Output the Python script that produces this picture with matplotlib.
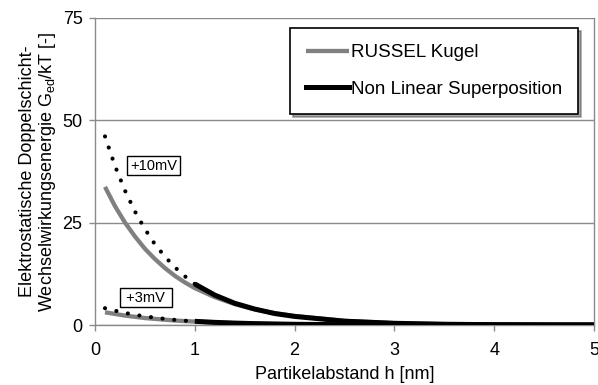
import matplotlib.pyplot as plt

plt.rcParams['font.family'] = ['Liberation Sans', 'DejaVu Sans']
plt.rcParams['mathtext.fontset'] = 'custom'
plt.rcParams['mathtext.rm'] = 'Liberation Sans'

# Abstand h [nm]
h_near = [0.1, 0.2, 0.3, 0.4, 0.5, 0.6, 0.7, 0.8, 0.9, 1.0]
h_far = [1.0, 1.2, 1.4, 1.6, 1.8, 2.0, 2.5, 3.0, 3.5, 4.0, 4.5, 5.0]

# +10mV
russel_10_near = [33.7, 29.0, 25.0, 21.6, 18.6, 16.1, 13.9, 12.0, 10.4, 9.0]
russel_10_far = [9.0, 6.8, 5.1, 3.8, 2.9, 2.2, 1.0, 0.45, 0.2, 0.09, 0.04, 0.02]
nls_10_near = [46.0, 38.8, 32.8, 27.7, 23.4, 19.7, 16.7, 14.1, 11.9, 10.0]
nls_10_far = [10.0, 7.3, 5.3, 3.9, 2.8, 2.1, 0.94, 0.42, 0.19, 0.08, 0.04, 0.02]

# +3mV
russel_3_near = [3.1, 2.7, 2.3, 2.0, 1.7, 1.5, 1.3, 1.1, 0.95, 0.85]
russel_3_far = [0.85, 0.62, 0.45, 0.33, 0.24, 0.18, 0.08, 0.04, 0.02, 0.01, 0.0, 0.0]
nls_3_near = [4.1, 3.5, 2.95, 2.5, 2.1, 1.8, 1.5, 1.25, 1.05, 0.9]
nls_3_far = [0.9, 0.65, 0.47, 0.34, 0.25, 0.18, 0.08, 0.04, 0.02, 0.01, 0.0, 0.0]

grey = '#808080'

fig = plt.figure(figsize=(5.98, 3.85), dpi=100)
ax = fig.add_axes([0.1589, 0.1558, 0.8344, 0.7987])

# RUSSEL Kugel (grau)
ax.plot(h_near + h_far[1:], russel_10_near + russel_10_far[1:], color=grey, lw=3.1,
        solid_capstyle='butt', label='RUSSEL Kugel', zorder=3)
ax.plot(h_near + h_far[1:], russel_3_near + russel_3_far[1:], color=grey, lw=3.1,
        solid_capstyle='butt', zorder=3)

# Non Linear Superposition: gepunktet bis 1 nm, dann durchgezogen
for near, far in [(nls_10_near, nls_10_far), (nls_3_near, nls_3_far)]:
    ax.plot(h_near, near, color='black', lw=3.0, linestyle=(0, (0.01, 2.8)),
            dash_capstyle='round', zorder=4)
    ax.plot(h_far, far, color='black', lw=3.6, solid_capstyle='butt', zorder=4)
ax.plot([], [], color='black', lw=3.6, label='Non Linear Superposition')

ax.set_xlim(0, 5)
ax.set_ylim(0, 75)
ax.set_xticks([0, 1, 2, 3, 4, 5])
ax.set_yticks([0, 25, 50, 75])
ax.yaxis.grid(True, color='#8a8a8a', lw=1)
ax.set_axisbelow(True)
for s in ax.spines.values():
    s.set_color('#8a8a8a')
    s.set_linewidth(1)
ax.spines['top'].set_visible(False)
ax.tick_params(axis='both', colors='#8a8a8a', labelcolor='black', labelsize=13,
               length=4, width=1)
ax.tick_params(axis='y', pad=5)
ax.tick_params(axis='x', pad=8)

ax.set_xlabel('Partikelabstand h [nm]', fontsize=13, labelpad=5)
ax.set_ylabel('Elektrostatische Doppelschicht-\nWechselwirkungsenergie G$_\\mathrm{ed}$/kT [-]',
              fontsize=13, labelpad=3, linespacing=1.05)

box = dict(boxstyle='square,pad=0.2', fc='white', ec='black', lw=1)
ax.text(0.59, 38.9, '+10mV', fontsize=10.5, ha='center', va='center', bbox=box, zorder=5)
ax.text(0.51, 6.7, ' +3mV ', fontsize=10.5, ha='center', va='center', bbox=box, zorder=5)

leg = ax.legend(loc='upper right', bbox_to_anchor=(0.9666, 0.927),
                bbox_transform=fig.transFigure, fontsize=13.5, frameon=True,
                fancybox=False, shadow=True, handlelength=2.3, handletextpad=0.1,
                labelspacing=1.05, borderpad=0.85, borderaxespad=0)
leg.get_frame().set_edgecolor('black')
leg.get_frame().set_linewidth(1.2)

fig.savefig('out.png', dpi=100)
